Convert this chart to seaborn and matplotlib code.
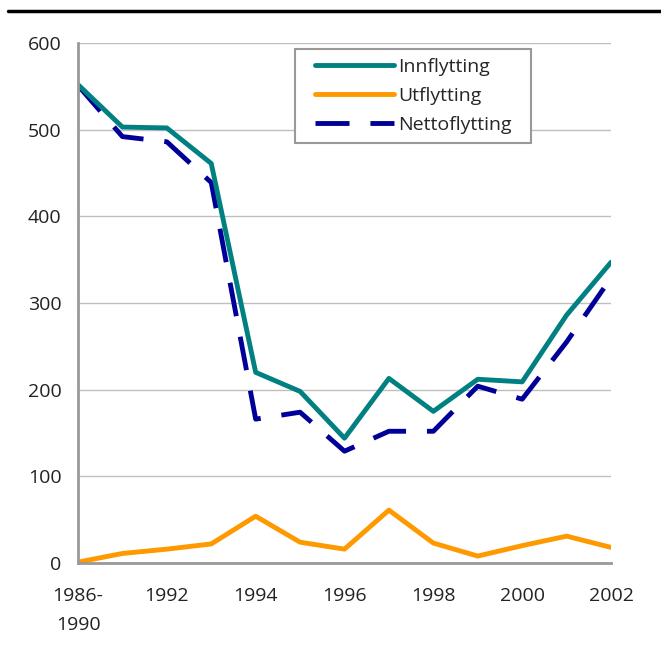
import matplotlib
matplotlib.use("Agg")
import matplotlib.pyplot as plt
import seaborn as sns
import pandas as pd
from matplotlib.lines import Line2D

# Verdier lest av figuren
perioder = ["1986-1990", "1991", "1992", "1993", "1994", "1995", "1996",
            "1997", "1998", "1999", "2000", "2001", "2002"]
innflytting = [552, 503, 502, 461, 220, 198, 144, 213, 175, 212, 209, 286, 347]
utflytting = [1, 11, 16, 22, 54, 24, 16, 61, 23, 8, 20, 31, 18]
nettoflytting = [551, 492, 486, 439, 166, 174, 129, 152, 152, 204, 189, 255, 329]
tick_labels = ["1986-\n1990", "", "1992", "", "1994", "", "1996", "",
               "1998", "", "2000", "", "2002"]
serier = ["Innflytting", "Utflytting", "Nettoflytting"]

sns.set_style("white")
plt.rcParams["font.family"] = ["Open Sans", "DejaVu Sans"]

n = len(perioder)
df = pd.DataFrame({
    "x": list(range(n)) * 3,
    "verdi": innflytting + utflytting + nettoflytting,
    "serie": [serier[0]] * n + [serier[1]] * n + [serier[2]] * n,
})

fig = plt.figure(figsize=(6.61, 6.51), dpi=100)
ax = fig.add_axes([78 / 661, 1 - 563 / 651, (611 - 78) / 661, (563 - 43) / 651])

farger = {"Innflytting": "#008080", "Utflytting": "#FF9900", "Nettoflytting": "#000099"}
strek = (7, 4.3)
lw = 3.5
sns.lineplot(data=df, x="x", y="verdi", hue="serie", style="serie",
             palette=farger,
             dashes={"Innflytting": "", "Utflytting": "", "Nettoflytting": strek},
             hue_order=["Nettoflytting", "Innflytting", "Utflytting"],
             linewidth=lw, ax=ax, legend=False)

ax.set_xlim(0, n - 1)
ax.set_ylim(0, 600)
ax.set_yticks(range(0, 601, 100))
ax.set_xticks(range(n))
ax.set_xticklabels(tick_labels, linespacing=1.8)
ax.set_xlabel("")
ax.set_ylabel("")
ax.grid(axis="y", color="#BFBFBF", linewidth=1)
ax.set_axisbelow(True)
for s in ["top", "right"]:
    ax.spines[s].set_visible(False)
for s in ["left", "bottom"]:
    ax.spines[s].set_color("#999999")
    ax.spines[s].set_linewidth(2)
ax.tick_params(axis="both", colors="#999999", labelcolor="#222222",
               labelsize=14, width=2, direction="out")
ax.tick_params(axis="x", length=7, pad=10)
ax.tick_params(axis="y", length=6, pad=6)

handles = [Line2D([], [], color=farger["Innflytting"], lw=lw),
           Line2D([], [], color=farger["Utflytting"], lw=lw),
           Line2D([], [], color=farger["Nettoflytting"], lw=lw, dashes=strek)]
leg = ax.legend(handles, serier,
                loc="upper left", bbox_to_anchor=((306 - 78) / 533, 1 - 6 / 520),
                fontsize=14, fancybox=False, framealpha=1, borderpad=0.45,
                handlelength=4.1, handletextpad=0.2, labelspacing=0.58,
                borderaxespad=0)
ramme = leg.get_frame()
ramme.set_edgecolor("#999999")
ramme.set_linewidth(1.5)
ramme.set_boxstyle("square", pad=0.55)
ramme.set_mutation_aspect(0.01)

fig.add_artist(Line2D([8 / 661, 1], [1 - 11 / 651, 1 - 11 / 651],
                      color="black", lw=2.5, transform=fig.transFigure))

fig.savefig("out.png", dpi=100)
